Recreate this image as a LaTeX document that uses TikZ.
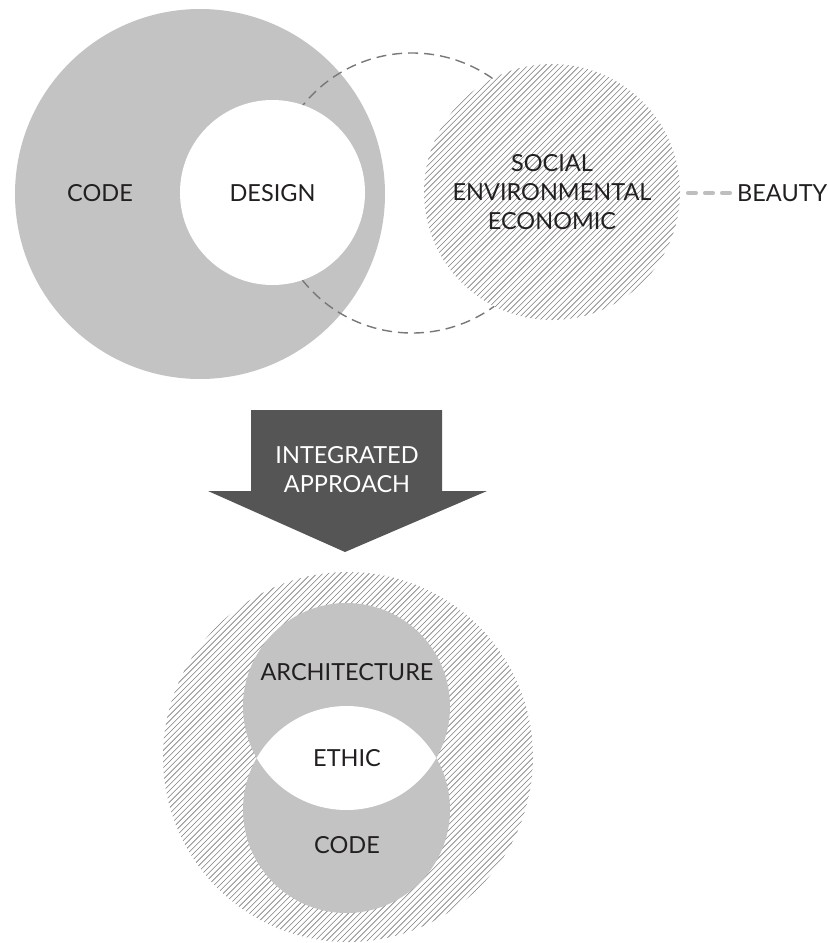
\documentclass[tikz,border=0pt]{standalone}
\usepackage{fontspec}
\setmainfont{Lato}
\definecolor{codegray}{RGB}{195,195,195}
\definecolor{arrowgray}{RGB}{85,85,85}
\definecolor{dashgray}{RGB}{120,120,120}
\definecolor{beautygray}{RGB}{190,190,190}
\definecolor{hatchgray}{RGB}{125,125,125}
\definecolor{inkblack}{RGB}{35,31,32}
\begin{document}
\begin{tikzpicture}[x=1pt,y=-1pt,
  lbl/.style={font=\fontsize{23.5}{29}\selectfont, text=inkblack, align=center, inner sep=0pt},
  graycirc/.style={circle, fill=codegray, draw=none, inner sep=0pt},
  whitecirc/.style={circle, fill=white, draw=none, inner sep=0pt},
  hatchcirc/.style={circle, fill=white, draw=none, inner sep=0pt,
    path picture={
      \foreach \k in {-70,...,70}{
        \draw[hatchgray, line width=0.6pt]
          ([xshift=\k*5.8pt-300pt, yshift=-300pt]path picture bounding box.center) --
          ([xshift=\k*5.8pt+300pt, yshift=300pt]path picture bounding box.center);
      }
    }},
  dashcirc/.style={draw=dashgray, line width=1.4pt, dash pattern=on 10pt off 6pt},
  beautylink/.style={draw=beautygray, line width=3.5pt, line cap=round, dash pattern=on 8.5pt off 8.5pt}
]
\useasboundingbox (0,0) rectangle (828,943);

% ---- top diagram ----
\node[graycirc, minimum size=370pt] (codecirc) at (200,194) {};
\draw[dashcirc] (412,193) circle (140);
\node[whitecirc, minimum size=185pt] (designcirc) at (272.5,192.5) {};
\node[hatchcirc, minimum size=256pt] (soccirc) at (552,192) {};

\node[lbl] (code) at (100,193) {CODE};
\node[lbl] (design) at (272.5,193) {DESIGN};
\node[lbl] (social) at (552,192.5) {SOCIAL\\ENVIRONMENTAL\\ECONOMIC};
\node[lbl, anchor=west] (beauty) at (737,193) {BEAUTY};
\coordinate (bstart) at (687.75,193);
\coordinate (bend) at (730.25,193);
\draw[beautylink] (bstart) -- (bend);

% ---- arrow ----
\fill[arrowgray] (251,410) -- (442,410) -- (442,491) -- (487,491) -- (345,552)
  -- (208,491) -- (251,491) -- cycle;
\node[lbl, text=white] (integrated) at (347,470) {INTEGRATED\\APPROACH};

% ---- bottom diagram ----
\node[hatchcirc, minimum size=370pt] (outer) at (348,757) {};
\node[graycirc, minimum size=207pt] (archcirc) at (346.5,706.5) {};
\node[graycirc, minimum size=207pt] (codecirc2) at (346.5,809.5) {};
\begin{scope}
  \clip (346.5,706.5) circle (103.5);
  \fill[white] (346.5,809.5) circle (103.5);
\end{scope}
\node[lbl] (arch) at (347,672) {ARCHITECTURE};
\node[lbl] (ethic) at (347,758) {ETHIC};
\node[lbl] (code2) at (347,845) {CODE};
\end{tikzpicture}
\end{document}
